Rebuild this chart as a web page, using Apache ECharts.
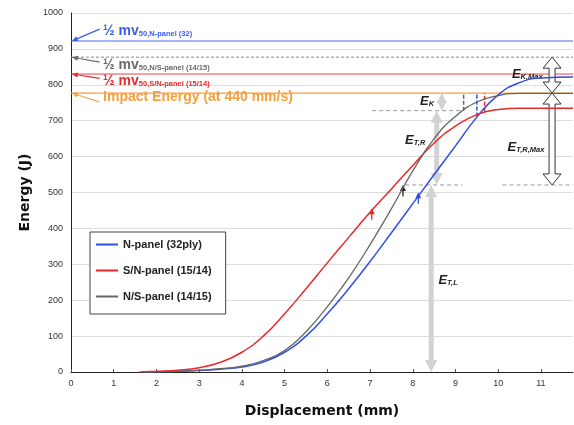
<!DOCTYPE html>
<html>
<head>
<meta charset="utf-8">
<script src="https://cdn.jsdelivr.net/npm/echarts@6/dist/echarts.min.js"></script>
<style>
html, body { margin: 0; padding: 0; background: #fff; }
#chart { width: 574px; height: 425px; }
</style>
</head>
<body>
<div id="chart"></div>
<script>
// curves (displacement mm, energy J)
var blueX = [1.7, 2.5, 3.0, 3.5, 4.0, 4.5, 5.0, 5.5, 6.0, 6.5, 7.0, 7.5, 8.0, 8.5, 9.0, 9.5, 10.0, 10.5, 11.0, 11.75];
var blueE = [0, 2, 4, 8, 14, 28, 55, 100, 162, 232, 308, 388, 469, 550, 630, 710, 772, 806, 819, 822];
var redX = [1.6, 2.0, 2.5, 3.0, 3.5, 4.0, 4.5, 5.0, 5.5, 6.0, 6.5, 7.0, 7.5, 8.0, 8.5, 9.0, 9.5, 10.0, 10.5, 11.75];
var redE = [0, 2, 5, 12, 27, 55, 100, 162, 232, 304, 375, 445, 510, 575, 638, 685, 717, 731, 735, 735];
var grayX = [1.7, 2.5, 3.0, 3.5, 4.0, 4.5, 5.0, 5.5, 6.0, 6.5, 7.0, 7.5, 8.0, 8.5, 9.0, 9.5, 10.0, 10.5, 11.75];
var grayE = [0, 2, 5, 9, 16, 32, 60, 112, 182, 262, 355, 455, 560, 650, 712, 752, 770, 776, 776];
var seriesNames = ['N-panel (32ply)', 'S/N-panel (15/14)', 'N/S-panel (14/15)'];

// reference energies: 1/2 mv for each panel and the impact energy
var mvLevels = [922, 877, 830];
var mvSubs = ['50,N-panel (32)', '50,N/S-panel (14/15)', '50,S/N-panel (15/14)'];
var impactLevel = 777;
var impactText = 'Impact Energy (at 440 mm/s)';
var tlLevel = 521;   // dashed E_T,L level
var trLevel = 728;   // dashed E_T,R level
var onsetX = [8.13, 7.04, 7.77];   // small arrows on blue, red, gray
var onsetE = [501, 456, 521];
var reachX = [9.5, 9.68, 9.19];    // dashed verticals where curves reach trLevel
var reachE = [712, 725, 728];

var xMax = 11.75;
var blue = '#2f4ee8', red = '#e8282c', gray = '#666', orange = '#f5a03c';
var font = 'Liberation Sans';

function pairs(xs, ys) { return xs.map(function (x, i) { return [x, ys[i]]; }); }

function notes(params, api) {
  var g = [];
  function P(x, y) { return api.coord([x, y]); }
  function seg(a, b, col, w, dash) {
    g.push({ type: 'line', shape: { x1: a[0], y1: a[1], x2: b[0], y2: b[1] },
      style: { stroke: col, lineWidth: w, lineDash: dash || null } });
  }
  function head(t, f, col, len, half) {
    var dx = t[0] - f[0], dy = t[1] - f[1], d = Math.sqrt(dx * dx + dy * dy);
    dx /= d; dy /= d;
    var bx = t[0] - dx * len, by = t[1] - dy * len;
    g.push({ type: 'polygon', shape: { points: [[t[0], t[1]], [bx - dy * half, by + dx * half], [bx + dy * half, by - dx * half]] },
      style: { fill: col } });
  }
  function arrow(a, b, col, w, len, half) {
    var dx = b[0] - a[0], dy = b[1] - a[1], d = Math.sqrt(dx * dx + dy * dy);
    seg(a, [b[0] - dx / d * len * 0.8, b[1] - dy / d * len * 0.8], col, w);
    head(b, a, col, len, half);
  }
  function both(a, b, col, w, len, half) {
    var dy = b[1] - a[1] > 0 ? 1 : -1;
    seg([a[0], a[1] + dy * len * 0.8], [b[0], b[1] - dy * len * 0.8], col, w);
    head(a, b, col, len, half);
    head(b, a, col, len, half);
  }
  function hollow(x, eTop, eBot) {
    var a = P(x, eTop), b = P(x, eBot), c = a[0], t = a[1], d = b[1];
    var hw = 9, sw = 3, hl = 11;
    g.push({ type: 'polygon', shape: { points: [[c, t], [c + hw, t + hl], [c + sw, t + hl], [c + sw, d - hl], [c + hw, d - hl],
      [c, d], [c - hw, d - hl], [c - sw, d - hl], [c - sw, t + hl], [c - hw, t + hl]] },
      style: { fill: '#fff', stroke: '#333', lineWidth: 1 } });
  }
  function txt(p, s, col, rich, align) {
    g.push({ type: 'text', x: p[0], y: p[1], style: { text: s, rich: rich, fill: col, align: align || 'left',
      verticalAlign: 'middle', font: 'bold 14px "' + font + '"' } });
  }
  var mvRich = {
    b: { fontSize: 14, fontWeight: 'bold', fontFamily: font, lineHeight: 18, verticalAlign: 'bottom' },
    s: { fontSize: 7.5, fontWeight: 'bold', fontFamily: font, lineHeight: 8, verticalAlign: 'bottom' }
  };
  var eRich = {
    b: { fontSize: 13, fontWeight: 'bold', fontStyle: 'italic', fontFamily: font, lineHeight: 16, verticalAlign: 'bottom' },
    s: { fontSize: 7.5, fontWeight: 'bold', fontStyle: 'italic', fontFamily: font, lineHeight: 7, verticalAlign: 'bottom' }
  };

  // horizontal reference lines
  seg(P(0, mvLevels[0]), P(xMax, mvLevels[0]), '#4a6cf0', 1);
  seg(P(0, mvLevels[1]), P(xMax, mvLevels[1]), '#888', 1, [3, 2]);
  seg(P(0, mvLevels[2]), P(xMax, mvLevels[2]), '#e84040', 1);
  seg(P(0, impactLevel), P(xMax, impactLevel), orange, 1.2);

  // labels with pointers to the axis
  var mvCols = ['#3a5ef0', '#6a6a6a', '#e8282c'];
  var labE = [955, 860, 815];
  for (var i = 0; i < 3; i++) {
    arrow(P(0.67, labE[i] + (i === 0 ? 0 : 3)), P(0.02, mvLevels[i]), mvCols[i], 1.2, 6, 2.5);
    txt(P(0.75, labE[i]), '{b|\u00bd mv}{s|' + mvSubs[i] + '}', mvCols[i], mvRich);
  }
  arrow(P(0.67, 752), P(0.02, impactLevel), orange, 1.2, 6, 2.5);
  txt(P(0.75, 766), impactText, orange, null);

  // dashed guide levels
  seg(P(7.05, trLevel), P(9.16, trLevel), '#999', 1, [4, 3]);
  seg(P(7.82, tlLevel), P(9.16, tlLevel), '#999', 1, [4, 3]);
  seg(P(10.1, tlLevel), P(xMax, tlLevel), '#999', 1, [4, 3]);

  // dashed verticals where each curve reaches the level, and onset arrows
  var cols = [blue, red, gray];
  for (var k = 0; k < 3; k++) {
    seg(P(reachX[k], reachE[k]), P(reachX[k], impactLevel), cols[k], 1.5, [4, 2]);
    arrow(P(onsetX[k], onsetE[k] - 32), P(onsetX[k], onsetE[k]), k === 2 ? '#222' : cols[k], 1.3, 6, 3);
  }

  // light gray energy arrows
  both(P(8.43, 0), P(8.43, tlLevel), '#d2d2d2', 5, 12, 6);
  both(P(8.56, tlLevel), P(8.56, trLevel), '#d2d2d2', 5, 12, 6);
  both(P(8.68, trLevel), P(8.68, impactLevel), '#d2d2d2', 5, 10, 5);

  // hollow max arrows on the right
  hollow(11.26, mvLevels[1], impactLevel);
  hollow(11.26, impactLevel, tlLevel);

  txt(P(8.17, 757), '{b|E}{s|K}', '#222', eRich);
  txt(P(7.82, 650), '{b|E}{s|T,R}', '#222', eRich);
  txt(P(8.6, 259), '{b|E}{s|T,L}', '#222', eRich);
  txt(P(11.04, 832), '{b|E}{s|K,Max}', '#222', eRich, 'right');
  txt(P(11.08, 630), '{b|E}{s|T,R,Max}', '#222', eRich, 'right');

  return { type: 'group', children: g };
}

var chart = echarts.init(document.getElementById('chart'));
chart.setOption({
  animation: false,
  backgroundColor: '#fff',
  grid: { left: 71, right: 1, top: 13, bottom: 53, outerBoundsMode: 'none' },
  legend: {
    data: seriesNames,
    orient: 'vertical',
    left: 90, top: 232,
    padding: [7, 14, 12, 6],
    itemGap: 15,
    itemWidth: 22, itemHeight: 2,
    icon: 'rect',
    borderColor: '#444', borderWidth: 1, backgroundColor: '#fff',
    textStyle: { fontFamily: font, fontWeight: 'bold', fontSize: 11, color: '#222' }
  },
  xAxis: {
    type: 'value', min: 0, max: xMax, interval: 1,
    name: 'Displacement (mm)', nameLocation: 'middle', nameGap: 32,
    nameTextStyle: { fontFamily: 'DejaVu Sans', fontWeight: 'bold', fontSize: 14, color: '#111' },
    axisLine: { lineStyle: { color: '#222', width: 1 } },
    axisTick: { show: true, inside: true, length: 3, lineStyle: { color: '#555' } },
    axisLabel: { fontFamily: font, fontSize: 9, color: '#333', margin: 7, showMaxLabel: false },
    splitLine: { show: false }
  },
  yAxis: {
    type: 'value', min: 0, max: 1000, interval: 100,
    name: 'Energy (J)', nameLocation: 'middle', nameGap: 33,
    nameTextStyle: { fontFamily: 'DejaVu Sans', fontWeight: 'bold', fontSize: 14, color: '#111' },
    axisLine: { show: true, lineStyle: { color: '#222', width: 1 } },
    axisTick: { show: false },
    axisLabel: { fontFamily: font, fontSize: 9, color: '#333', margin: 8, formatter: function (v) { return String(v); } },
    splitLine: { lineStyle: { color: '#ddd', width: 1 } }
  },
  series: [
    { name: seriesNames[0], type: 'line', smooth: 0.5, showSymbol: false, data: pairs(blueX, blueE),
      lineStyle: { color: blue, width: 1.5 }, itemStyle: { color: blue }, z: 3 },
    { name: seriesNames[1], type: 'line', smooth: 0.5, showSymbol: false, data: pairs(redX, redE),
      lineStyle: { color: red, width: 1.5 }, itemStyle: { color: red }, z: 3 },
    { name: seriesNames[2], type: 'line', smooth: 0.5, showSymbol: false, data: pairs(grayX, grayE),
      lineStyle: { color: gray, width: 1.3 }, itemStyle: { color: gray }, z: 3 },
    { type: 'custom', data: [[0, 0]], encode: { x: 0, y: 1 }, renderItem: notes, silent: true, z: 2 }
  ]
});
</script>
</body>
</html>
